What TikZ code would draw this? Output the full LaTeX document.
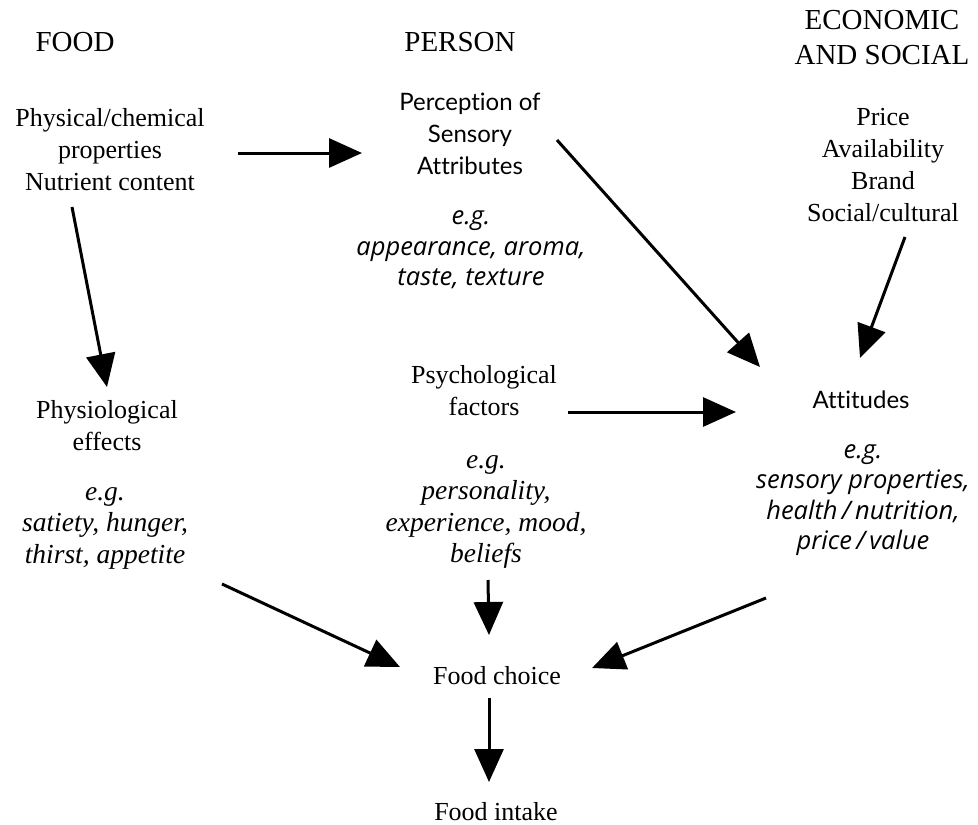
\documentclass[tikz,border=0pt]{standalone}
\usepackage{fontspec}
\setmainfont{Liberation Serif}
\newfontfamily\humanist[Ligatures=NoCommon]{Lato}
\newfontfamily\humanistit[Ligatures=NoCommon]{Open Sans}
\usetikzlibrary{arrows.meta}
\begin{document}
\begin{tikzpicture}[x=1pt,y=-1pt,
  txt/.style={align=center,inner sep=0pt,font=\fontsize{26}{32}\selectfont},
  head/.style={align=center,inner sep=0pt,font=\fontsize{29}{35}\selectfont},
  eg/.style={align=center,inner sep=0pt,font=\fontsize{27.5}{31.5}\selectfont\itshape},
  hum/.style={align=center,inner sep=0pt,font=\humanist\fontsize{24}{32}\selectfont},
  humeg/.style={align=center,inner sep=0pt,font=\humanistit\fontsize{25.5}{30.5}\selectfont\itshape},
  arr/.style={line width=3pt,-{Triangle[length=33pt,width=29pt]}}]
\useasboundingbox (0,0) rectangle (978,825);

% column headings
\node[head] (food)   at (75,42)  {FOOD};
\node[head] (person) at (460,42) {PERSON};
\node[head] (econ)   at (882,38) {ECONOMIC\\AND SOCIAL};

% food column
\node[txt] (phys)     at (110,150) {Physical/chemical\\properties\\Nutrient content};
\node[txt] (physio)   at (107,426) {Physiological\\effects};
\node[eg]  (physioeg) at (105,528) {e.g.\\satiety, hunger,\\thirst, appetite};

% person column
\node[hum]   (percep)   at (470,134) {Perception of\\Sensory\\Attributes};
\node[humeg] (percepeg) at (471,250) {e.g.\\appearance, aroma,\\taste, texture};
\node[txt]   (psych)    at (484,391) {Psychological\\factors};
\node[eg]    (psycheg)  at (486,512) {e.g.\\personality,\\experience, mood,\\beliefs};

% economic and social column
\node[txt]   (price) at (883,165) {Price\\Availability\\Brand\\Social/cultural};
\node[hum]   (att)   at (861,400) {Attitudes};
\node[humeg] (atteg) at (863,500) {e.g.\\sensory properties,\\health\,/\,nutrition,\\price\,/\,value};

% outcome
\node[txt] (choice) at (497,676) {Food choice};
\node[txt] (intake) at (496,812) {Food intake};

% influences
\draw[arr] ([shift={(128,3)}]phys.center)    -- ([shift={(-108,19)}]percep.center);
\draw[arr] ([shift={(-38,57)}]phys.center)   -- ([shift={(0,-39)}]physio.center);
\draw[arr] ([shift={(87,6)}]percep.center)   -- ([shift={(-101,-33)}]att.center);
\draw[arr] ([shift={(22,72)}]price.center)   -- ([shift={(-1,-42)}]att.center);
\draw[arr] ([shift={(84,21)}]psych.center)   -- ([shift={(-125,12)}]att.center);
\draw[arr] ([shift={(117,56)}]physioeg.center) -- ([shift={(-97,-9)}]choice.center);
\draw[arr] ([shift={(2,68)}]psycheg.center)  -- ([shift={(-8,-41)}]choice.center);
\draw[arr] ([shift={(-97,98)}]atteg.center) -- ([shift={(95,-8)}]choice.center);
\draw[arr] ([shift={(-8,22)}]choice.center)  -- ([shift={(-7,-30)}]intake.center);
\end{tikzpicture}
\end{document}
